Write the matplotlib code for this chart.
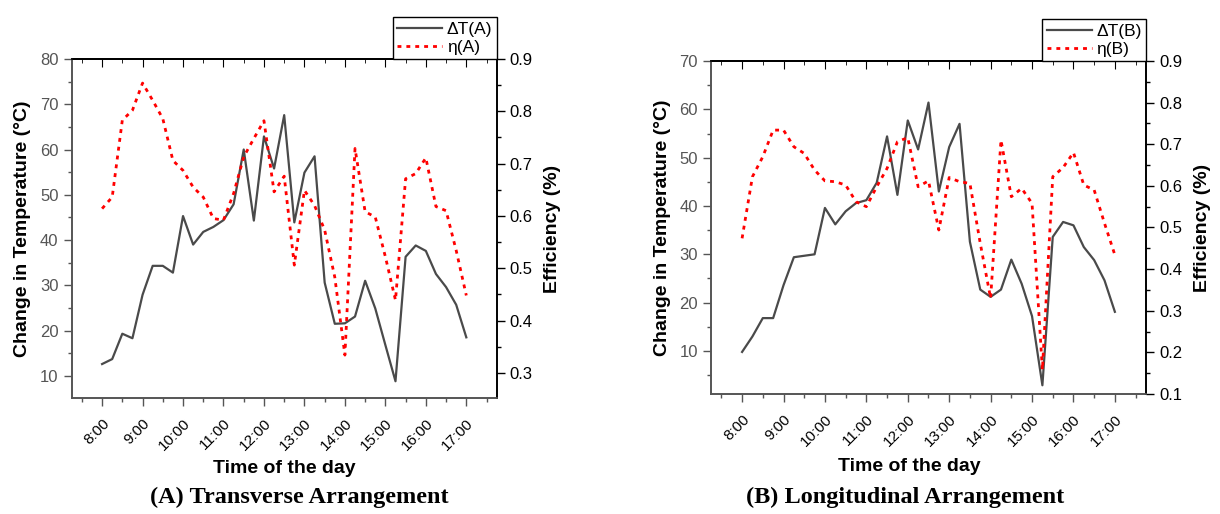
import matplotlib
matplotlib.use("Agg")
import matplotlib.pyplot as plt
import matplotlib.transforms as mtransforms
from matplotlib.ticker import FixedLocator, MultipleLocator
from matplotlib.lines import Line2D

plt.rcParams['font.family'] = ['Liberation Sans', 'DejaVu Sans']

# sampling times (every quarter hour)
times = ['8:00', '8:15', '8:30', '8:45', '9:00', '9:15', '9:30', '9:45',
         '10:00', '10:15', '10:30', '10:45', '11:00', '11:15', '11:30', '11:45',
         '12:00', '12:15', '12:30', '12:45', '13:00', '13:15', '13:30', '13:45',
         '14:00', '14:15', '14:30', '14:45', '15:00', '15:15', '15:30', '15:45',
         '16:00', '16:15', '16:30', '16:45', '17:00']
tick_labels = ['8:00', '9:00', '10:00', '11:00', '12:00', '13:00', '14:00',
               '15:00', '16:00', '17:00']

# (A) transverse arrangement
dT_A = [12.6, 13.7, 19.3, 18.3, 27.9, 34.3, 34.3, 32.8, 45.3, 39.0, 41.8, 42.9,
        44.4, 47.9, 60.0, 44.3, 62.9, 55.8, 67.6, 43.9, 54.9, 58.5, 30.6, 21.5,
        21.6, 23.1, 31.0, 24.9, 16.8, 8.8, 36.3, 38.8, 37.6, 32.5, 29.6, 25.7, 18.5]
eta_A = [0.614, 0.636, 0.783, 0.802, 0.854, 0.821, 0.786, 0.706, 0.687, 0.655,
         0.636, 0.595, 0.592, 0.643, 0.713, 0.748, 0.782, 0.646, 0.676, 0.506,
         0.649, 0.620, 0.573, 0.483, 0.334, 0.729, 0.608, 0.598, 0.522, 0.439,
         0.671, 0.681, 0.711, 0.618, 0.610, 0.534, 0.448]

# (B) longitudinal arrangement
dT_B = [9.8, 13.0, 16.8, 16.8, 23.6, 29.4, 29.7, 30.0, 39.6, 36.2, 38.9, 40.6,
        41.2, 44.8, 54.4, 42.3, 57.7, 51.7, 61.4, 43.0, 52.2, 57.0, 32.6, 22.7,
        21.2, 22.7, 28.9, 23.9, 17.2, 2.9, 33.6, 36.7, 36.0, 31.5, 28.8, 24.6, 18.1]
eta_B = [0.474, 0.622, 0.670, 0.734, 0.734, 0.694, 0.678, 0.638, 0.612, 0.610,
         0.602, 0.562, 0.550, 0.598, 0.642, 0.706, 0.716, 0.598, 0.612, 0.494,
         0.620, 0.610, 0.606, 0.462, 0.330, 0.710, 0.574, 0.594, 0.558, 0.158,
         0.622, 0.644, 0.680, 0.602, 0.590, 0.510, 0.434]

caption = {'A': '(A) Transverse Arrangement', 'B': '(B) Longitudinal Arrangement'}


def to_hours(t):
    h, m = t.split(':')
    return int(h) + int(m) / 60


x = [to_hours(t) for t in times]
xticks = [to_hours(t) for t in tick_labels]

gray = '#555555'
line_gray = '#4a4a4a'
dots = (0, (1.4, 1.8))


def make_panel(rect, dT, eta, tag, ylim1, ylim2, y1_ticks, y2_ticks,
               xlab_pos, ylab_x, caption_x):
    ax = fig.add_axes(rect)
    ax2 = ax.twinx()

    ax.plot(x, dT, color=line_gray, lw=1.6)
    ax2.plot(x, eta, color='red', lw=2.0, ls=dots)

    ax.set_xlim(7.25, 17.75)
    ax.set_ylim(*ylim1)
    ax2.set_ylim(*ylim2)

    ax.xaxis.set_major_locator(FixedLocator(xticks))
    ax.xaxis.set_minor_locator(MultipleLocator(0.5))
    ax.set_xticklabels(tick_labels, rotation=45, ha='right',
                       rotation_mode='anchor', fontsize=11)
    # nudge the rotated labels a little to the right
    shift = mtransforms.ScaledTranslation(4 / 72, 0, fig.dpi_scale_trans)
    for lab in ax.get_xticklabels():
        lab.set_transform(lab.get_transform() + shift)
    ax.yaxis.set_major_locator(FixedLocator(y1_ticks))
    ax.yaxis.set_minor_locator(MultipleLocator(5))
    ax2.yaxis.set_major_locator(FixedLocator(y2_ticks))
    ax2.yaxis.set_minor_locator(MultipleLocator(0.05))

    ax.tick_params(axis='x', which='major', direction='out', length=6,
                   width=1, color=gray, pad=7)
    ax.tick_params(axis='x', which='minor', direction='out', length=3,
                   width=1, color=gray)
    ax.tick_params(axis='y', which='major', direction='out', length=6,
                   width=1, color=gray, labelcolor=gray, labelsize=12)
    ax.tick_params(axis='y', which='minor', direction='out', length=3,
                   width=1, color=gray)
    ax2.tick_params(axis='y', which='major', direction='out', length=6,
                    width=1, color='black', labelsize=12)
    ax2.tick_params(axis='y', which='minor', direction='out', length=3,
                    width=1, color='black')

    # top ticks pointing inward
    top = ax.secondary_xaxis('top')
    top.xaxis.set_major_locator(FixedLocator(xticks))
    top.xaxis.set_minor_locator(MultipleLocator(0.5))
    top.tick_params(which='major', direction='in', length=6, labeltop=False)
    top.tick_params(which='minor', direction='in', length=3)
    top.spines['top'].set_linewidth(1.2)

    for a in (ax, ax2):
        a.spines['left'].set_color(gray)
        a.spines['bottom'].set_color(gray)
        a.spines['right'].set_color('black')
        a.spines['top'].set_color('black')
        for s in a.spines.values():
            s.set_linewidth(1.2)

    ax.set_xlabel('Time of the day', fontsize=14, fontweight='bold')
    ax.xaxis.set_label_coords(*xlab_pos)
    ax.set_ylabel('Change in Temperature (°C)', fontsize=14, fontweight='bold')
    ax.yaxis.set_label_coords(ylab_x[0], 0.5)
    ax2.set_ylabel('Efficiency (%)', fontsize=14, fontweight='bold')
    ax2.yaxis.set_label_coords(ylab_x[1], 0.5)

    handles = [Line2D([], [], color=line_gray, lw=1.6),
               Line2D([], [], color='red', lw=2.0, ls=dots)]
    leg = ax2.legend(handles, ['ΔT(%s)' % tag, 'η(%s)' % tag],
                     loc='lower right', bbox_to_anchor=(1, 1),
                     borderaxespad=0, fontsize=12.5, frameon=True, fancybox=False,
                     edgecolor='black', framealpha=1, handlelength=2.6,
                     handletextpad=0.25, labelspacing=0.15, borderpad=0.25)
    leg.get_frame().set_linewidth(1.0)

    fig.text(caption_x, 0.033, caption[tag], ha='center', va='center',
             fontsize=17.5, fontweight='bold', family='Liberation Serif')
    return ax, ax2


fig = plt.figure(figsize=(12.2, 5.14), dpi=100)

make_panel([0.0588, 0.2257, 0.3483, 0.6595], dT_A, eta_A, 'A',
           (5.1, 80), (0.252, 0.9),
           [10, 20, 30, 40, 50, 60, 70, 80],
           [0.3, 0.4, 0.5, 0.6, 0.7, 0.8, 0.9],
           (0.5, -0.182), (-0.096, 1.112), 0.245)

make_panel([0.5828, 0.2335, 0.3565, 0.6478], dT_B, eta_B, 'B',
           (1.1, 70), (0.1, 0.9),
           [10, 20, 30, 40, 50, 60, 70],
           [0.1, 0.2, 0.3, 0.4, 0.5, 0.6, 0.7, 0.8, 0.9],
           (0.455, -0.192), (-0.092, 1.111), 0.742)

fig.savefig('out.png', dpi=100)
